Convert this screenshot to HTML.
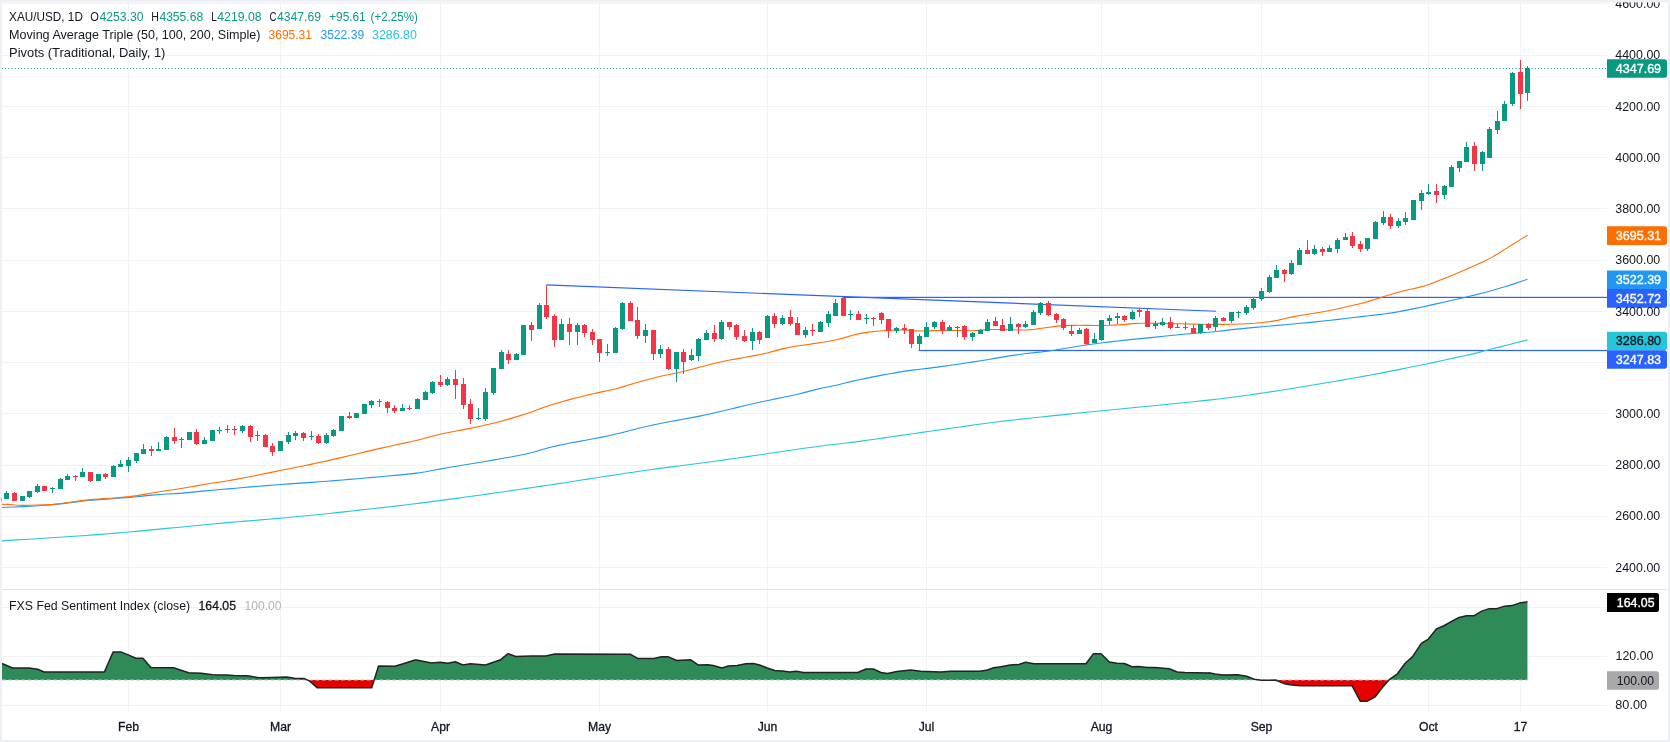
<!DOCTYPE html>
<html><head><meta charset="utf-8"><title>XAU/USD</title>
<style>
html,body{margin:0;padding:0;background:#fff;}
body{width:1670px;height:742px;overflow:hidden;font-family:"Liberation Sans",sans-serif;}
svg{display:block;font-family:"Liberation Sans",sans-serif;}
</style></head><body>
<svg width="1670" height="742" viewBox="0 0 1670 742">
<rect x="0" y="0" width="1670" height="742" fill="#fff"/>
<!-- grid -->
<rect x="2" y="567" width="1605" height="1" fill="#f1f2f4"/>
<rect x="2" y="516" width="1605" height="1" fill="#f1f2f4"/>
<rect x="2" y="465" width="1605" height="1" fill="#f1f2f4"/>
<rect x="2" y="413" width="1605" height="1" fill="#f1f2f4"/>
<rect x="2" y="362" width="1605" height="1" fill="#f1f2f4"/>
<rect x="2" y="311" width="1605" height="1" fill="#f1f2f4"/>
<rect x="2" y="260" width="1605" height="1" fill="#f1f2f4"/>
<rect x="2" y="208" width="1605" height="1" fill="#f1f2f4"/>
<rect x="2" y="157" width="1605" height="1" fill="#f1f2f4"/>
<rect x="2" y="106" width="1605" height="1" fill="#f1f2f4"/>
<rect x="2" y="55" width="1605" height="1" fill="#f1f2f4"/>
<rect x="2" y="3" width="1605" height="1" fill="#f1f2f4"/>
<rect x="2" y="607" width="1605" height="1" fill="#f1f2f4"/>
<rect x="2" y="656" width="1605" height="1" fill="#f1f2f4"/>
<rect x="2" y="705" width="1605" height="1" fill="#f1f2f4"/>
<rect x="128" y="2" width="1" height="709.5" fill="#f1f2f4"/>
<rect x="280" y="2" width="1" height="709.5" fill="#f1f2f4"/>
<rect x="440" y="2" width="1" height="709.5" fill="#f1f2f4"/>
<rect x="599" y="2" width="1" height="709.5" fill="#f1f2f4"/>
<rect x="767" y="2" width="1" height="709.5" fill="#f1f2f4"/>
<rect x="926" y="2" width="1" height="709.5" fill="#f1f2f4"/>
<rect x="1101" y="2" width="1" height="709.5" fill="#f1f2f4"/>
<rect x="1261" y="2" width="1" height="709.5" fill="#f1f2f4"/>
<rect x="1428" y="2" width="1" height="709.5" fill="#f1f2f4"/>
<rect x="1520" y="2" width="1" height="709.5" fill="#f1f2f4"/>
<!-- pane separator -->
<rect x="2" y="589" width="1665" height="1" fill="#e0e3eb"/>
<!-- horizontal level lines -->
<rect x="842.8" y="296.8" width="764.2" height="1.2" fill="#2962ff"/>
<rect x="918.7" y="349.9" width="688.3" height="1.2" fill="#2962ff"/>
<path d="M546.5 284.9 L1216.1 311.2" stroke="#2962ff" stroke-width="1.1" fill="none"/>
<!-- MAs -->
<path d="M2.01 540.85 L9.62 540.38 L17.22 539.92 L24.82 539.45 L32.43 538.97 L40.03 538.49 L47.64 538 L55.24 537.51 L62.84 537.02 L70.45 536.53 L78.05 536.02 L85.66 535.48 L93.26 534.92 L100.86 534.33 L108.47 533.72 L116.07 533.09 L123.68 532.44 L131.28 531.78 L138.88 531.08 L146.49 530.37 L154.09 529.64 L161.7 528.9 L169.3 528.16 L176.9 527.43 L184.51 526.71 L192.11 525.97 L199.72 525.23 L207.32 524.5 L214.92 523.78 L222.53 523.08 L230.13 522.4 L237.74 521.76 L245.34 521.13 L252.94 520.52 L260.55 519.9 L268.15 519.27 L275.76 518.62 L283.36 517.94 L290.96 517.24 L298.57 516.52 L306.17 515.78 L313.78 515.02 L321.38 514.25 L328.98 513.47 L336.59 512.67 L344.19 511.85 L351.8 511.02 L359.4 510.17 L367 509.31 L374.61 508.45 L382.21 507.59 L389.82 506.72 L397.42 505.84 L405.02 504.95 L412.63 504.03 L420.23 503.09 L427.84 502.13 L435.44 501.14 L443.04 500.14 L450.65 499.13 L458.25 498.1 L465.86 497.06 L473.46 496 L481.06 494.94 L488.67 493.86 L496.27 492.78 L503.88 491.69 L511.48 490.59 L519.08 489.49 L526.69 488.38 L534.29 487.26 L541.9 486.15 L549.5 485.02 L557.1 483.86 L564.71 482.69 L572.31 481.51 L579.92 480.32 L587.52 479.14 L595.12 477.97 L602.73 476.82 L610.33 475.65 L617.94 474.49 L625.54 473.32 L633.14 472.18 L640.75 471.05 L648.35 469.96 L655.96 468.91 L663.56 467.9 L671.16 466.92 L678.77 465.95 L686.37 464.99 L693.98 464.01 L701.58 463.01 L709.18 461.98 L716.79 460.93 L724.39 459.86 L732 458.79 L739.6 457.71 L747.2 456.63 L754.81 455.55 L762.41 454.44 L770.02 453.32 L777.62 452.18 L785.22 451.04 L792.83 449.92 L800.43 448.81 L808.04 447.73 L815.64 446.7 L823.24 445.72 L830.85 444.82 L838.45 443.95 L846.06 443.06 L853.66 442.1 L861.26 441.09 L868.87 440.05 L876.47 438.97 L884.08 437.88 L891.68 436.77 L899.28 435.65 L906.89 434.54 L914.49 433.43 L922.1 432.34 L929.7 431.27 L937.3 430.19 L944.91 429.1 L952.51 428.01 L960.12 426.92 L967.72 425.85 L975.32 424.79 L982.93 423.75 L990.53 422.75 L998.14 421.79 L1005.74 420.86 L1013.34 419.98 L1020.95 419.13 L1028.55 418.3 L1036.16 417.49 L1043.76 416.69 L1051.36 415.89 L1058.97 415.1 L1066.57 414.33 L1074.18 413.56 L1081.78 412.81 L1089.38 412.06 L1096.99 411.3 L1104.59 410.54 L1112.2 409.79 L1119.8 409.03 L1127.4 408.28 L1135.01 407.53 L1142.61 406.77 L1150.22 406.01 L1157.82 405.24 L1165.42 404.49 L1173.03 403.75 L1180.63 403 L1188.24 402.25 L1195.84 401.47 L1203.44 400.67 L1211.05 399.83 L1218.65 398.94 L1226.26 398 L1233.86 397.02 L1241.46 396.01 L1249.07 394.96 L1256.67 393.88 L1264.28 392.77 L1271.88 391.64 L1279.48 390.47 L1287.09 389.28 L1294.69 388.06 L1302.3 386.83 L1309.9 385.57 L1317.5 384.3 L1325.11 383.01 L1332.71 381.71 L1340.32 380.4 L1347.92 379.07 L1355.52 377.74 L1363.13 376.4 L1370.73 375.03 L1378.34 373.6 L1385.94 372.11 L1393.54 370.6 L1401.15 369.09 L1408.75 367.57 L1416.36 366.03 L1423.96 364.46 L1431.56 362.86 L1439.17 361.22 L1446.77 359.55 L1454.38 357.89 L1461.98 356.27 L1469.58 354.62 L1477.19 352.85 L1484.79 350.83 L1492.4 348.79 L1500 346.88 L1507.6 345 L1515.21 343.07 L1522.81 341.11 L1527.46 339.9" stroke="#26c6da" stroke-width="1.1" fill="none" stroke-linejoin="round"/>
<path d="M0 507.43 L7.6 507.24 L15.21 506.96 L22.81 506.61 L30.42 506.19 L38.02 505.71 L45.62 505.19 L53.23 504.62 L60.83 503.83 L68.44 502.88 L76.04 501.88 L83.64 500.97 L91.25 500.25 L98.85 499.64 L106.46 499.08 L114.06 498.55 L121.66 498 L129.27 497.4 L136.87 496.69 L144.48 495.91 L152.08 495.16 L159.68 494.5 L167.29 494.01 L174.89 493.63 L182.5 493.08 L190.1 492.4 L197.7 491.64 L205.31 490.89 L212.91 490.2 L220.52 489.54 L228.12 488.88 L235.72 488.23 L243.33 487.57 L250.93 486.92 L258.54 486.27 L266.14 485.64 L273.74 485.03 L281.35 484.44 L288.95 483.88 L296.56 483.36 L304.16 482.84 L311.76 482.33 L319.37 481.8 L326.97 481.24 L334.58 480.64 L342.18 480.03 L349.78 479.39 L357.39 478.74 L364.99 478.07 L372.6 477.39 L380.2 476.69 L387.8 476.02 L395.41 475.34 L403.01 474.63 L410.62 473.83 L418.22 472.92 L425.82 471.77 L433.43 470.31 L441.03 468.88 L448.64 467.57 L456.24 466.3 L463.84 465.05 L471.45 463.8 L479.05 462.52 L486.66 461.21 L494.26 459.88 L501.86 458.56 L509.47 457.23 L517.07 455.81 L524.68 454.26 L532.28 452.51 L539.88 450.3 L547.49 448.02 L555.09 446.16 L562.7 444.52 L570.3 443.02 L577.9 441.6 L585.51 440.21 L593.11 438.81 L600.72 437.35 L608.32 435.79 L615.92 434.05 L623.53 432.17 L631.13 430.22 L638.74 428.27 L646.34 426.42 L653.94 424.73 L661.55 423.21 L669.15 421.78 L676.76 420.41 L684.36 419.05 L691.96 417.65 L699.57 416.16 L707.17 414.54 L714.78 412.82 L722.38 411.03 L729.98 409.2 L737.59 407.35 L745.19 405.52 L752.8 403.74 L760.4 402.04 L768 400.43 L775.61 398.88 L783.21 397.33 L790.82 395.73 L798.42 394.03 L806.02 392.14 L813.63 390.15 L821.23 388.3 L828.84 386.74 L836.44 385.17 L844.04 383.25 L851.65 381.39 L859.25 379.7 L866.86 378.1 L874.46 376.59 L882.06 375.14 L889.67 373.72 L897.27 372.39 L904.88 371.16 L912.48 370.1 L920.08 369.24 L927.69 368.39 L935.29 367.42 L942.9 366.38 L950.5 365.29 L958.1 364.17 L965.71 363.04 L973.31 361.9 L980.92 360.69 L988.52 359.42 L996.12 358.12 L1003.73 356.84 L1011.33 355.62 L1018.94 354.48 L1026.54 353.48 L1034.14 352.67 L1041.75 351.92 L1049.35 350.98 L1056.96 349.83 L1064.56 348.55 L1072.16 347.23 L1079.77 345.95 L1087.37 344.81 L1094.98 343.77 L1102.58 342.78 L1110.18 341.83 L1117.79 340.93 L1125.39 340.09 L1133 339.33 L1140.6 338.63 L1148.2 337.87 L1155.81 337.09 L1163.41 336.29 L1171.02 335.51 L1178.62 334.76 L1186.22 334.03 L1193.83 333.36 L1201.43 332.79 L1209.04 332.23 L1216.64 331.57 L1224.24 330.61 L1231.85 329.65 L1239.45 328.87 L1247.06 328.14 L1254.66 327.42 L1262.26 326.72 L1269.87 326.03 L1277.47 325.36 L1285.08 324.68 L1292.68 324 L1300.28 323.3 L1307.89 322.58 L1315.49 321.84 L1323.1 321.05 L1330.7 320.22 L1338.3 319.34 L1345.91 318.44 L1353.51 317.53 L1361.12 316.64 L1368.72 315.78 L1376.32 314.89 L1383.93 313.94 L1391.53 312.88 L1399.14 311.62 L1406.74 310.15 L1414.34 308.6 L1421.95 307.01 L1429.55 305.36 L1437.16 303.66 L1444.76 301.94 L1452.36 300.21 L1459.97 298.48 L1467.57 296.72 L1475.18 294.89 L1482.78 292.99 L1490.38 290.98 L1497.99 288.83 L1505.59 286.54 L1513.2 284.11 L1520.8 281.58 L1527.46 279.29" stroke="#2196f3" stroke-width="1.1" fill="none" stroke-linejoin="round"/>
<path d="M0 504.29 L7.6 504.35 L15.21 504.99 L22.81 505.36 L30.42 505.27 L38.02 505.04 L45.62 504.72 L53.23 504.33 L60.83 503.57 L68.44 502.55 L76.04 501.43 L83.64 500.4 L91.25 499.64 L98.85 499.04 L106.46 498.52 L114.06 498 L121.66 497.41 L129.27 496.67 L136.87 495.65 L144.48 494.38 L152.08 493.01 L159.68 491.68 L167.29 490.53 L174.89 489.46 L182.5 488.26 L190.1 486.96 L197.7 485.63 L205.31 484.31 L212.91 483.08 L220.52 481.92 L228.12 480.68 L235.72 479.34 L243.33 477.92 L250.93 476.46 L258.54 474.95 L266.14 473.41 L273.74 471.85 L281.35 470.3 L288.95 468.75 L296.56 467.21 L304.16 465.67 L311.76 464.1 L319.37 462.51 L326.97 460.86 L334.58 459.15 L342.18 457.37 L349.78 455.56 L357.39 453.72 L364.99 451.9 L372.6 450.11 L380.2 448.39 L387.8 446.72 L395.41 445.07 L403.01 443.4 L410.62 441.69 L418.22 439.92 L425.82 437.98 L433.43 435.92 L441.03 434.03 L448.64 432.45 L456.24 431.01 L463.84 429.61 L471.45 428.15 L479.05 426.55 L486.66 424.83 L494.26 422.98 L501.86 420.99 L509.47 418.86 L517.07 416.61 L524.68 414.23 L532.28 411.69 L539.88 408.75 L547.49 406.02 L555.09 403.66 L562.7 401.46 L570.3 399.4 L577.9 397.43 L585.51 395.58 L593.11 393.83 L600.72 392.14 L608.32 390.46 L615.92 388.75 L623.53 386.62 L631.13 384.3 L638.74 382.06 L646.34 379.96 L653.94 377.91 L661.55 376.02 L669.15 374.46 L676.76 373.01 L684.36 371.21 L691.96 369.22 L699.57 367.22 L707.17 365.28 L714.78 363.33 L722.38 361.53 L729.98 359.98 L737.59 358.59 L745.19 357.26 L752.8 355.91 L760.4 354.44 L768 352.69 L775.61 350.64 L783.21 348.61 L790.82 346.96 L798.42 345.76 L806.02 344.73 L813.63 343.66 L821.23 342.51 L828.84 341.28 L836.44 339.78 L844.04 337.86 L851.65 335.5 L859.25 333.65 L866.86 332.36 L874.46 331.47 L882.06 330.81 L889.67 330.37 L897.27 330.01 L904.88 329.9 L912.48 330.59 L920.08 331.05 L927.69 330.86 L935.29 330.58 L942.9 330.44 L950.5 330.36 L958.1 330.53 L965.71 330.79 L973.31 330.7 L980.92 330.13 L988.52 329.56 L996.12 329.45 L1003.73 329.59 L1011.33 329.8 L1018.94 329.98 L1026.54 330.02 L1034.14 329.33 L1041.75 328.19 L1049.35 327.18 L1056.96 326.17 L1064.56 325.65 L1072.16 325.38 L1079.77 325.31 L1087.37 325.38 L1094.98 325.47 L1102.58 325.51 L1110.18 325.3 L1117.79 324.89 L1125.39 324.41 L1133 323.66 L1140.6 323.2 L1148.2 323.23 L1155.81 323.34 L1163.41 323.47 L1171.02 323.6 L1178.62 323.78 L1186.22 323.99 L1193.83 324.17 L1201.43 324.28 L1209.04 324.31 L1216.64 324.33 L1224.24 324.34 L1231.85 324.3 L1239.45 324.06 L1247.06 323.68 L1254.66 323.23 L1262.26 322.56 L1269.87 321.65 L1277.47 320.39 L1285.08 318.45 L1292.68 316.85 L1300.28 315.48 L1307.89 314.22 L1315.49 312.98 L1323.1 311.67 L1330.7 310.23 L1338.3 308.68 L1345.91 307.05 L1353.51 305.32 L1361.12 303.46 L1368.72 301.39 L1376.32 298.93 L1383.93 296.56 L1391.53 294.27 L1399.14 292.08 L1406.74 290.08 L1414.34 288.45 L1421.95 286.66 L1429.55 284.16 L1437.16 281.24 L1444.76 278.25 L1452.36 275.2 L1459.97 272.03 L1467.57 268.76 L1475.18 265.37 L1482.78 261.89 L1490.38 258.13 L1497.99 253.74 L1505.59 248.84 L1513.2 244.01 L1520.8 239.37 L1527.6 235.26" stroke="#ff6d00" stroke-width="1.1" fill="none" stroke-linejoin="round"/>
<!-- price line -->
<path d="M2 68.5H1607" stroke="#089981" stroke-width="1" stroke-dasharray="1 2.2" fill="none"/>
<!-- candles -->
<path fill="#089981" d="M6 491h1V499h-1zM4 493h5V499h-5z"/>
<path fill="#f23645" d="M14 492h1V501h-1zM12 493h5V501h-5z"/>
<path fill="#089981" d="M22 496h1V501h-1zM20 496h5V501h-5z"/>
<path fill="#089981" d="M29 491h1V498h-1zM27 491h5V497h-5z"/>
<path fill="#089981" d="M37 484h1V493h-1zM35 486h5V492h-5z"/>
<path fill="#f23645" d="M44 486h1V491h-1zM42 486h5V491h-5z"/>
<path fill="#089981" d="M52 487h1V493h-1zM50 488h5V489h-5z"/>
<path fill="#089981" d="M60 478h1V489h-1zM58 479h5V489h-5z"/>
<path fill="#089981" d="M67 474h1V480h-1zM65 476h5V480h-5z"/>
<path fill="#f23645" d="M75 475h1V481h-1zM73 476h5V477h-5z"/>
<path fill="#089981" d="M82 468h1V477h-1zM80 472h5V477h-5z"/>
<path fill="#f23645" d="M90 472h1V482h-1zM88 472h5V481h-5z"/>
<path fill="#089981" d="M98 474h1V481h-1zM96 474h5V481h-5z"/>
<path fill="#f23645" d="M105 473h1V479h-1zM103 474h5V477h-5z"/>
<path fill="#089981" d="M113 465h1V477h-1zM111 466h5V477h-5z"/>
<path fill="#089981" d="M120 460h1V467h-1zM118 464h5V467h-5z"/>
<path fill="#089981" d="M128 457h1V472h-1zM126 460h5V466h-5z"/>
<path fill="#089981" d="M136 453h1V463h-1zM134 453h5V461h-5z"/>
<path fill="#089981" d="M143 444h1V454h-1zM141 449h5V454h-5z"/>
<path fill="#f23645" d="M151 446h1V456h-1zM149 449h5V451h-5z"/>
<path fill="#089981" d="M158 442h1V451h-1zM156 449h5V451h-5z"/>
<path fill="#089981" d="M166 436h1V450h-1zM164 437h5V450h-5z"/>
<path fill="#f23645" d="M174 428h1V444h-1zM172 437h5V441h-5z"/>
<path fill="#089981" d="M181 437h1V448h-1zM179 439h5V440h-5z"/>
<path fill="#089981" d="M189 432h1V440h-1zM187 432h5V440h-5z"/>
<path fill="#f23645" d="M196 429h1V445h-1zM194 432h5V444h-5z"/>
<path fill="#089981" d="M204 437h1V444h-1zM202 440h5V444h-5z"/>
<path fill="#089981" d="M212 430h1V441h-1zM210 430h5V441h-5z"/>
<path fill="#089981" d="M219 427h1V434h-1zM217 430h5V431h-5z"/>
<path fill="#089981" d="M227 425h1V433h-1zM225 429h5V430h-5z"/>
<path fill="#f23645" d="M234 426h1V435h-1zM232 429h5V430h-5z"/>
<path fill="#089981" d="M242 425h1V433h-1zM240 426h5V431h-5z"/>
<path fill="#f23645" d="M250 425h1V442h-1zM248 426h5V437h-5z"/>
<path fill="#089981" d="M257 431h1V441h-1zM255 435h5V436h-5z"/>
<path fill="#f23645" d="M265 434h1V447h-1zM263 435h5V447h-5z"/>
<path fill="#f23645" d="M272 443h1V456h-1zM270 446h5V452h-5z"/>
<path fill="#089981" d="M280 441h1V451h-1zM278 441h5V451h-5z"/>
<path fill="#089981" d="M288 432h1V444h-1zM286 435h5V442h-5z"/>
<path fill="#089981" d="M295 431h1V440h-1zM293 433h5V436h-5z"/>
<path fill="#f23645" d="M303 432h1V441h-1zM301 433h5V438h-5z"/>
<path fill="#089981" d="M311 431h1V440h-1zM309 436h5V437h-5z"/>
<path fill="#f23645" d="M318 434h1V444h-1zM316 436h5V443h-5z"/>
<path fill="#089981" d="M326 433h1V444h-1zM324 435h5V443h-5z"/>
<path fill="#089981" d="M333 429h1V437h-1zM331 430h5V436h-5z"/>
<path fill="#089981" d="M341 416h1V431h-1zM339 416h5V431h-5z"/>
<path fill="#f23645" d="M349 412h1V419h-1zM347 416h5V418h-5z"/>
<path fill="#089981" d="M356 413h1V418h-1zM354 413h5V418h-5z"/>
<path fill="#089981" d="M364 404h1V414h-1zM362 404h5V414h-5z"/>
<path fill="#089981" d="M371 400h1V408h-1zM369 401h5V405h-5z"/>
<path fill="#f23645" d="M379 399h1V407h-1zM377 401h5V402h-5z"/>
<path fill="#f23645" d="M387 401h1V413h-1zM385 402h5V408h-5z"/>
<path fill="#f23645" d="M394 405h1V413h-1zM392 408h5V411h-5z"/>
<path fill="#089981" d="M402 404h1V411h-1zM400 408h5V411h-5z"/>
<path fill="#f23645" d="M409 405h1V410h-1zM407 408h5V409h-5z"/>
<path fill="#089981" d="M417 398h1V409h-1zM415 399h5V409h-5z"/>
<path fill="#089981" d="M425 391h1V400h-1zM423 392h5V400h-5z"/>
<path fill="#089981" d="M432 381h1V394h-1zM430 382h5V393h-5z"/>
<path fill="#f23645" d="M440 375h1V387h-1zM438 382h5V385h-5z"/>
<path fill="#089981" d="M447 377h1V386h-1zM445 379h5V385h-5z"/>
<path fill="#f23645" d="M455 370h1V399h-1zM453 379h5V385h-5z"/>
<path fill="#f23645" d="M463 378h1V409h-1zM461 384h5V405h-5z"/>
<path fill="#f23645" d="M470 399h1V424h-1zM468 404h5V419h-5z"/>
<path fill="#089981" d="M478 408h1V420h-1zM476 418h5V419h-5z"/>
<path fill="#089981" d="M485 388h1V421h-1zM483 392h5V419h-5z"/>
<path fill="#089981" d="M493 368h1V395h-1zM491 368h5V393h-5z"/>
<path fill="#089981" d="M501 350h1V369h-1zM499 352h5V369h-5z"/>
<path fill="#f23645" d="M508 350h1V364h-1zM506 354h5V360h-5z"/>
<path fill="#089981" d="M516 353h1V360h-1zM514 354h5V360h-5z"/>
<path fill="#089981" d="M523 325h1V355h-1zM521 325h5V355h-5z"/>
<path fill="#f23645" d="M531 322h1V341h-1zM529 325h5V330h-5z"/>
<path fill="#089981" d="M539 303h1V329h-1zM537 305h5V329h-5z"/>
<path fill="#f23645" d="M546 285h1V319h-1zM544 305h5V317h-5z"/>
<path fill="#f23645" d="M554 314h1V347h-1zM552 316h5V340h-5z"/>
<path fill="#089981" d="M561 319h1V340h-1zM559 324h5V340h-5z"/>
<path fill="#f23645" d="M569 318h1V345h-1zM567 324h5V332h-5z"/>
<path fill="#089981" d="M577 323h1V345h-1zM575 325h5V332h-5z"/>
<path fill="#f23645" d="M584 324h1V337h-1zM582 325h5V333h-5z"/>
<path fill="#f23645" d="M592 329h1V345h-1zM590 332h5V340h-5z"/>
<path fill="#f23645" d="M599 339h1V362h-1zM597 339h5V353h-5z"/>
<path fill="#089981" d="M607 344h1V356h-1zM605 352h5V353h-5z"/>
<path fill="#089981" d="M615 327h1V353h-1zM613 328h5V353h-5z"/>
<path fill="#089981" d="M622 302h1V330h-1zM620 303h5V329h-5z"/>
<path fill="#f23645" d="M630 301h1V321h-1zM628 303h5V321h-5z"/>
<path fill="#f23645" d="M637 307h1V339h-1zM635 320h5V336h-5z"/>
<path fill="#089981" d="M645 324h1V343h-1zM643 330h5V336h-5z"/>
<path fill="#f23645" d="M653 330h1V360h-1zM651 330h5V354h-5z"/>
<path fill="#089981" d="M660 345h1V358h-1zM658 349h5V354h-5z"/>
<path fill="#f23645" d="M668 347h1V370h-1zM666 349h5V369h-5z"/>
<path fill="#089981" d="M676 352h1V382h-1zM674 352h5V369h-5z"/>
<path fill="#f23645" d="M683 349h1V374h-1zM681 352h5V362h-5z"/>
<path fill="#089981" d="M691 349h1V361h-1zM689 355h5V360h-5z"/>
<path fill="#089981" d="M698 338h1V361h-1zM696 339h5V356h-5z"/>
<path fill="#089981" d="M706 330h1V340h-1zM704 333h5V340h-5z"/>
<path fill="#f23645" d="M714 325h1V342h-1zM712 333h5V339h-5z"/>
<path fill="#089981" d="M721 320h1V340h-1zM719 322h5V339h-5z"/>
<path fill="#f23645" d="M729 322h1V330h-1zM727 322h5V327h-5z"/>
<path fill="#f23645" d="M736 324h1V340h-1zM734 325h5V337h-5z"/>
<path fill="#f23645" d="M744 330h1V342h-1zM742 336h5V341h-5z"/>
<path fill="#089981" d="M752 328h1V350h-1zM750 332h5V341h-5z"/>
<path fill="#f23645" d="M759 331h1V344h-1zM757 332h5V340h-5z"/>
<path fill="#089981" d="M767 315h1V338h-1zM765 316h5V338h-5z"/>
<path fill="#f23645" d="M774 313h1V328h-1zM772 316h5V324h-5z"/>
<path fill="#089981" d="M782 315h1V325h-1zM780 318h5V324h-5z"/>
<path fill="#f23645" d="M790 310h1V326h-1zM788 317h5V324h-5z"/>
<path fill="#f23645" d="M797 317h1V335h-1zM795 323h5V335h-5z"/>
<path fill="#089981" d="M805 327h1V338h-1zM803 330h5V335h-5z"/>
<path fill="#f23645" d="M812 324h1V336h-1zM810 330h5V331h-5z"/>
<path fill="#089981" d="M820 321h1V332h-1zM818 322h5V332h-5z"/>
<path fill="#089981" d="M828 311h1V327h-1zM826 314h5V323h-5z"/>
<path fill="#089981" d="M835 299h1V316h-1zM833 303h5V316h-5z"/>
<path fill="#f23645" d="M843 297h1V316h-1zM841 298h5V316h-5z"/>
<path fill="#089981" d="M850 310h1V320h-1zM848 314h5V315h-5z"/>
<path fill="#f23645" d="M858 311h1V320h-1zM856 314h5V320h-5z"/>
<path fill="#089981" d="M866 314h1V324h-1zM864 318h5V319h-5z"/>
<path fill="#f23645" d="M873 317h1V326h-1zM871 318h5V319h-5z"/>
<path fill="#f23645" d="M881 312h1V324h-1zM879 313h5V320h-5z"/>
<path fill="#f23645" d="M888 319h1V338h-1zM886 319h5V331h-5z"/>
<path fill="#089981" d="M896 327h1V333h-1zM894 328h5V331h-5z"/>
<path fill="#f23645" d="M904 324h1V334h-1zM902 328h5V330h-5z"/>
<path fill="#f23645" d="M911 329h1V348h-1zM909 329h5V344h-5z"/>
<path fill="#089981" d="M919 334h1V350h-1zM917 336h5V344h-5z"/>
<path fill="#089981" d="M926 322h1V337h-1zM924 327h5V337h-5z"/>
<path fill="#089981" d="M934 321h1V329h-1zM932 322h5V327h-5z"/>
<path fill="#f23645" d="M942 320h1V334h-1zM940 322h5V331h-5z"/>
<path fill="#089981" d="M949 325h1V331h-1zM947 327h5V331h-5z"/>
<path fill="#089981" d="M957 326h1V337h-1zM955 327h5V328h-5z"/>
<path fill="#f23645" d="M964 325h1V340h-1zM962 326h5V337h-5z"/>
<path fill="#089981" d="M972 332h1V341h-1zM970 333h5V337h-5z"/>
<path fill="#089981" d="M980 329h1V334h-1zM978 330h5V334h-5z"/>
<path fill="#089981" d="M987 319h1V331h-1zM985 322h5V331h-5z"/>
<path fill="#f23645" d="M995 317h1V326h-1zM993 321h5V326h-5z"/>
<path fill="#f23645" d="M1002 319h1V331h-1zM1000 325h5V331h-5z"/>
<path fill="#089981" d="M1010 317h1V331h-1zM1008 324h5V331h-5z"/>
<path fill="#f23645" d="M1018 323h1V334h-1zM1016 324h5V327h-5z"/>
<path fill="#089981" d="M1025 321h1V328h-1zM1023 324h5V327h-5z"/>
<path fill="#089981" d="M1033 310h1V325h-1zM1031 312h5V325h-5z"/>
<path fill="#089981" d="M1040 302h1V315h-1zM1038 303h5V313h-5z"/>
<path fill="#f23645" d="M1048 301h1V316h-1zM1046 303h5V315h-5z"/>
<path fill="#f23645" d="M1056 313h1V323h-1zM1054 314h5V320h-5z"/>
<path fill="#f23645" d="M1063 318h1V330h-1zM1061 319h5V328h-5z"/>
<path fill="#f23645" d="M1071 325h1V336h-1zM1069 331h5V334h-5z"/>
<path fill="#089981" d="M1079 328h1V334h-1zM1077 330h5V334h-5z"/>
<path fill="#f23645" d="M1086 328h1V345h-1zM1084 329h5V344h-5z"/>
<path fill="#089981" d="M1094 333h1V343h-1zM1092 339h5V343h-5z"/>
<path fill="#089981" d="M1101 320h1V341h-1zM1099 320h5V340h-5z"/>
<path fill="#089981" d="M1109 315h1V325h-1zM1107 318h5V321h-5z"/>
<path fill="#089981" d="M1117 313h1V324h-1zM1115 316h5V318h-5z"/>
<path fill="#f23645" d="M1124 315h1V322h-1zM1122 316h5V320h-5z"/>
<path fill="#089981" d="M1132 310h1V320h-1zM1130 312h5V319h-5z"/>
<path fill="#f23645" d="M1139 308h1V317h-1zM1137 310h5V312h-5z"/>
<path fill="#f23645" d="M1147 309h1V327h-1zM1145 311h5V327h-5z"/>
<path fill="#089981" d="M1155 321h1V329h-1zM1153 324h5V326h-5z"/>
<path fill="#089981" d="M1162 318h1V326h-1zM1160 322h5V325h-5z"/>
<path fill="#f23645" d="M1170 317h1V329h-1zM1168 322h5V328h-5z"/>
<path fill="#089981" d="M1177 324h1V328h-1zM1175 327h5V328h-5z"/>
<path fill="#f23645" d="M1185 322h1V330h-1zM1183 327h5V328h-5z"/>
<path fill="#f23645" d="M1193 325h1V333h-1zM1191 328h5V333h-5z"/>
<path fill="#089981" d="M1200 324h1V334h-1zM1198 324h5V333h-5z"/>
<path fill="#f23645" d="M1208 323h1V330h-1zM1206 324h5V328h-5z"/>
<path fill="#089981" d="M1215 316h1V331h-1zM1213 318h5V327h-5z"/>
<path fill="#f23645" d="M1223 317h1V321h-1zM1221 318h5V321h-5z"/>
<path fill="#089981" d="M1231 312h1V323h-1zM1229 312h5V321h-5z"/>
<path fill="#089981" d="M1238 311h1V318h-1zM1236 312h5V313h-5z"/>
<path fill="#089981" d="M1246 305h1V315h-1zM1244 307h5V313h-5z"/>
<path fill="#089981" d="M1253 297h1V310h-1zM1251 299h5V308h-5z"/>
<path fill="#089981" d="M1261 288h1V301h-1zM1259 291h5V299h-5z"/>
<path fill="#089981" d="M1269 275h1V293h-1zM1267 277h5V292h-5z"/>
<path fill="#089981" d="M1276 265h1V278h-1zM1274 270h5V278h-5z"/>
<path fill="#f23645" d="M1284 269h1V282h-1zM1282 270h5V274h-5z"/>
<path fill="#089981" d="M1291 260h1V275h-1zM1289 263h5V274h-5z"/>
<path fill="#089981" d="M1299 248h1V265h-1zM1297 250h5V265h-5z"/>
<path fill="#f23645" d="M1307 240h1V254h-1zM1305 250h5V254h-5z"/>
<path fill="#089981" d="M1314 245h1V255h-1zM1312 249h5V254h-5z"/>
<path fill="#f23645" d="M1322 247h1V256h-1zM1320 249h5V252h-5z"/>
<path fill="#089981" d="M1329 245h1V252h-1zM1327 248h5V252h-5z"/>
<path fill="#089981" d="M1337 238h1V253h-1zM1335 240h5V249h-5z"/>
<path fill="#089981" d="M1345 233h1V240h-1zM1343 237h5V240h-5z"/>
<path fill="#f23645" d="M1352 232h1V248h-1zM1350 236h5V246h-5z"/>
<path fill="#f23645" d="M1360 241h1V252h-1zM1358 244h5V249h-5z"/>
<path fill="#089981" d="M1367 238h1V251h-1zM1365 238h5V249h-5z"/>
<path fill="#089981" d="M1375 221h1V239h-1zM1373 222h5V239h-5z"/>
<path fill="#089981" d="M1383 211h1V225h-1zM1381 217h5V223h-5z"/>
<path fill="#f23645" d="M1390 214h1V229h-1zM1388 217h5V226h-5z"/>
<path fill="#089981" d="M1398 218h1V228h-1zM1396 221h5V226h-5z"/>
<path fill="#089981" d="M1405 212h1V225h-1zM1403 218h5V222h-5z"/>
<path fill="#089981" d="M1413 200h1V220h-1zM1411 200h5V220h-5z"/>
<path fill="#089981" d="M1421 190h1V210h-1zM1419 193h5V201h-5z"/>
<path fill="#089981" d="M1428 184h1V195h-1zM1426 192h5V194h-5z"/>
<path fill="#f23645" d="M1436 184h1V203h-1zM1434 191h5V195h-5z"/>
<path fill="#089981" d="M1444 185h1V199h-1zM1442 186h5V195h-5z"/>
<path fill="#089981" d="M1451 165h1V187h-1zM1449 167h5V187h-5z"/>
<path fill="#089981" d="M1459 161h1V172h-1zM1457 161h5V168h-5z"/>
<path fill="#089981" d="M1466 142h1V162h-1zM1464 147h5V162h-5z"/>
<path fill="#f23645" d="M1474 142h1V171h-1zM1472 146h5V164h-5z"/>
<path fill="#089981" d="M1482 151h1V171h-1zM1480 152h5V164h-5z"/>
<path fill="#089981" d="M1489 127h1V158h-1zM1487 129h5V158h-5z"/>
<path fill="#089981" d="M1497 111h1V134h-1zM1495 121h5V130h-5z"/>
<path fill="#089981" d="M1504 101h1V121h-1zM1502 104h5V121h-5z"/>
<path fill="#089981" d="M1512 72h1V106h-1zM1510 73h5V104h-5z"/>
<path fill="#f23645" d="M1520 60h1V109h-1zM1518 72h5V94h-5z"/>
<path fill="#089981" d="M1527 66h1V101h-1zM1525 68h5V93h-5z"/>
<!-- sentiment -->
<path d="M2.01 680 L2.01 663.47 L12.58 668 L28.92 668 L37.73 669.26 L44.01 672.02 L104.38 672.02 L113.18 651.9 L120.72 651.9 L128.27 654.92 L135.81 658.19 L142.86 658.19 L150.91 667.49 L173.54 667.75 L188.63 672.78 L201.21 673.28 L212.53 674.79 L226.36 675.04 L233.9 675.54 L247.74 675.79 L259.05 677.81 L271.63 677.56 L286.72 677.05 L294.27 678.31 L304.33 678.56 L307.52 680 L309.36 680 L317.4 680 L371.73 680 L374.17 680 L378.52 665.99 L394.87 666.24 L402.41 663.97 L414.99 659.95 L416.35 659.95 L431.44 662.97 L440.24 662.21 L447.79 663.22 L455.33 661.71 L462.88 664.98 L470.42 663.72 L485.51 664.98 L500.6 659.7 L508.15 653.66 L515.69 656.43 L530.78 655.93 L545.88 655.93 L554.68 653.91 L630.13 654.16 L637.68 658.44 L654.02 658.44 L661.57 656.68 L667.86 656.68 L676.66 660.45 L690.49 659.7 L698.04 664.98 L708.1 664.73 L713.13 665.48 L721.93 668 L728.22 665.99 L737.02 665.48 L745.82 663.72 L753.37 663.47 L759.66 664.98 L767.2 668 L774.75 670.51 L782.29 671.02 L789.84 672.02 L796.13 671.27 L804.93 672.78 L805.03 672.53 L857.85 672.53 L865.9 669 L873.44 669 L880.99 672.53 L887.53 673.53 L896.83 671.52 L910.66 670.01 L920.72 671.27 L940.85 672.02 L950.91 671.27 L979.83 671.27 L987.37 670.01 L993.66 667.75 L1001.21 666.74 L1010.01 664.98 L1018.81 664.48 L1025.6 662.21 L1033.9 663.72 L1085.97 663.72 L1093.51 653.66 L1101.06 653.66 L1109.36 661.96 L1116.9 663.22 L1124.45 663.47 L1131.99 666.74 L1138.28 666.49 L1147.08 667.49 L1154.63 667.49 L1169.22 668.75 L1177.26 672.02 L1184.81 672.53 L1208.7 673.03 L1208.8 672.78 L1215.09 674.03 L1222.64 675.04 L1237.73 674.79 L1246.53 676.3 L1254.07 679.32 L1259.21 680 L1261.62 680 L1275.45 680 L1285.51 680 L1291.8 680 L1300.6 680 L1352.16 680 L1360.21 680 L1367.25 680 L1374.8 680 L1382.34 680 L1389.06 680 L1389.89 679.06 L1397.43 673.78 L1404.98 663.47 L1412.53 656.68 L1421.33 643.35 L1428.37 639.07 L1436.42 629.01 L1443.96 625.74 L1451.51 621.47 L1459.05 617.44 L1466.6 615.68 L1474.14 615.68 L1481.69 611.16 L1489.24 608.64 L1496.78 608.64 L1504.33 606.13 L1511.87 605.62 L1519.42 603.11 L1527.46 601.85 L1527.46 680Z" fill="#2e8b57"/>
<path d="M2.01 680 L2.01 680 L12.58 680 L28.92 680 L37.73 680 L44.01 680 L104.38 680 L113.18 680 L120.72 680 L128.27 680 L135.81 680 L142.86 680 L150.91 680 L173.54 680 L188.63 680 L201.21 680 L212.53 680 L226.36 680 L233.9 680 L247.74 680 L259.05 680 L271.63 680 L286.72 680 L294.27 680 L304.33 680 L307.52 680 L309.36 680.82 L317.4 687.87 L371.73 687.87 L374.17 680 L378.52 680 L394.87 680 L402.41 680 L414.99 680 L416.35 680 L431.44 680 L440.24 680 L447.79 680 L455.33 680 L462.88 680 L470.42 680 L485.51 680 L500.6 680 L508.15 680 L515.69 680 L530.78 680 L545.88 680 L554.68 680 L630.13 680 L637.68 680 L654.02 680 L661.57 680 L667.86 680 L676.66 680 L690.49 680 L698.04 680 L708.1 680 L713.13 680 L721.93 680 L728.22 680 L737.02 680 L745.82 680 L753.37 680 L759.66 680 L767.2 680 L774.75 680 L782.29 680 L789.84 680 L796.13 680 L804.93 680 L805.03 680 L857.85 680 L865.9 680 L873.44 680 L880.99 680 L887.53 680 L896.83 680 L910.66 680 L920.72 680 L940.85 680 L950.91 680 L979.83 680 L987.37 680 L993.66 680 L1001.21 680 L1010.01 680 L1018.81 680 L1025.6 680 L1033.9 680 L1085.97 680 L1093.51 680 L1101.06 680 L1109.36 680 L1116.9 680 L1124.45 680 L1131.99 680 L1138.28 680 L1147.08 680 L1154.63 680 L1169.22 680 L1177.26 680 L1184.81 680 L1208.7 680 L1208.8 680 L1215.09 680 L1222.64 680 L1237.73 680 L1246.53 680 L1254.07 680 L1259.21 680 L1261.62 680.32 L1275.45 680.07 L1285.51 684.09 L1291.8 685.1 L1300.6 685.86 L1352.16 685.86 L1360.21 701.2 L1367.25 701.2 L1374.8 697.17 L1382.34 687.62 L1389.06 680 L1389.89 680 L1397.43 680 L1404.98 680 L1412.53 680 L1421.33 680 L1428.37 680 L1436.42 680 L1443.96 680 L1451.51 680 L1459.05 680 L1466.6 680 L1474.14 680 L1481.69 680 L1489.24 680 L1496.78 680 L1504.33 680 L1511.87 680 L1519.42 680 L1527.46 680 L1527.46 680Z" fill="#e60000"/>
<path d="M2 680H1527.46" stroke="#c4c4c4" stroke-width="1.2" stroke-dasharray="3.6 2.8" fill="none"/>
<path d="M2.01 663.47 L12.58 668 L28.92 668 L37.73 669.26 L44.01 672.02 L104.38 672.02 L113.18 651.9 L120.72 651.9 L128.27 654.92 L135.81 658.19 L142.86 658.19 L150.91 667.49 L173.54 667.75 L188.63 672.78 L201.21 673.28 L212.53 674.79 L226.36 675.04 L233.9 675.54 L247.74 675.79 L259.05 677.81 L271.63 677.56 L286.72 677.05 L294.27 678.31 L304.33 678.56 L309.36 680.82 L317.4 687.87 L371.73 687.87 L378.52 665.99 L394.87 666.24 L402.41 663.97 L414.99 659.95 L416.35 659.95 L431.44 662.97 L440.24 662.21 L447.79 663.22 L455.33 661.71 L462.88 664.98 L470.42 663.72 L485.51 664.98 L500.6 659.7 L508.15 653.66 L515.69 656.43 L530.78 655.93 L545.88 655.93 L554.68 653.91 L630.13 654.16 L637.68 658.44 L654.02 658.44 L661.57 656.68 L667.86 656.68 L676.66 660.45 L690.49 659.7 L698.04 664.98 L708.1 664.73 L713.13 665.48 L721.93 668 L728.22 665.99 L737.02 665.48 L745.82 663.72 L753.37 663.47 L759.66 664.98 L767.2 668 L774.75 670.51 L782.29 671.02 L789.84 672.02 L796.13 671.27 L804.93 672.78 L805.03 672.53 L857.85 672.53 L865.9 669 L873.44 669 L880.99 672.53 L887.53 673.53 L896.83 671.52 L910.66 670.01 L920.72 671.27 L940.85 672.02 L950.91 671.27 L979.83 671.27 L987.37 670.01 L993.66 667.75 L1001.21 666.74 L1010.01 664.98 L1018.81 664.48 L1025.6 662.21 L1033.9 663.72 L1085.97 663.72 L1093.51 653.66 L1101.06 653.66 L1109.36 661.96 L1116.9 663.22 L1124.45 663.47 L1131.99 666.74 L1138.28 666.49 L1147.08 667.49 L1154.63 667.49 L1169.22 668.75 L1177.26 672.02 L1184.81 672.53 L1208.7 673.03 L1208.8 672.78 L1215.09 674.03 L1222.64 675.04 L1237.73 674.79 L1246.53 676.3 L1254.07 679.32 L1261.62 680.32 L1275.45 680.07 L1285.51 684.09 L1291.8 685.1 L1300.6 685.86 L1352.16 685.86 L1360.21 701.2 L1367.25 701.2 L1374.8 697.17 L1382.34 687.62 L1389.89 679.06 L1397.43 673.78 L1404.98 663.47 L1412.53 656.68 L1421.33 643.35 L1428.37 639.07 L1436.42 629.01 L1443.96 625.74 L1451.51 621.47 L1459.05 617.44 L1466.6 615.68 L1474.14 615.68 L1481.69 611.16 L1489.24 608.64 L1496.78 608.64 L1504.33 606.13 L1511.87 605.62 L1519.42 603.11 L1527.46 601.85" stroke="#222" stroke-width="1.5" fill="none" stroke-linejoin="round"/>
<!-- labels -->
<g style="filter:contrast(1)">
<path fill="#089981" d="M1607 59.15h57.5a2.5 2.5 0 0 1 2.5 2.5v13.7a2.5 2.5 0 0 1 -2.5 2.5h-57.5z"/><text x="1615.8" y="72.9" font-size="12.2" fill="#fff" stroke="#fff" stroke-width="0.35" textLength="45.3" lengthAdjust="spacingAndGlyphs">4347.69</text>
<path fill="#ff6d00" d="M1607 226.25h57.5a2.5 2.5 0 0 1 2.5 2.5v13.7a2.5 2.5 0 0 1 -2.5 2.5h-57.5z"/><text x="1615.8" y="240" font-size="12.2" fill="#fff" stroke="#fff" stroke-width="0.35" textLength="45.3" lengthAdjust="spacingAndGlyphs">3695.31</text>
<path fill="#2196f3" d="M1607 270.4h57.5a2.5 2.5 0 0 1 2.5 2.5v14.2a2.5 2.5 0 0 1 -2.5 2.5h-57.5z"/><text x="1615.8" y="284.4" font-size="12.2" fill="#fff" stroke="#fff" stroke-width="0.35" textLength="45.3" lengthAdjust="spacingAndGlyphs">3522.39</text>
<path fill="#2962ff" d="M1607 289.05h57.5a2.5 2.5 0 0 1 2.5 2.5v13.7a2.5 2.5 0 0 1 -2.5 2.5h-57.5z"/><text x="1615.8" y="302.8" font-size="12.2" fill="#fff" stroke="#fff" stroke-width="0.35" textLength="45.3" lengthAdjust="spacingAndGlyphs">3452.72</text>
<path fill="#26c6da" d="M1607 331.65h57.5a2.5 2.5 0 0 1 2.5 2.5v13.7a2.5 2.5 0 0 1 -2.5 2.5h-57.5z"/><text x="1615.8" y="345.4" font-size="12.2" fill="#131722" stroke="#131722" stroke-width="0.35" textLength="45.3" lengthAdjust="spacingAndGlyphs">3286.80</text>
<path fill="#2962ff" d="M1607 350.15h57.5a2.5 2.5 0 0 1 2.5 2.5v13.7a2.5 2.5 0 0 1 -2.5 2.5h-57.5z"/><text x="1615.8" y="363.9" font-size="12.2" fill="#fff" stroke="#fff" stroke-width="0.35" textLength="45.3" lengthAdjust="spacingAndGlyphs">3247.83</text>
<path fill="#000" d="M1607 593.1h49.5a2.5 2.5 0 0 1 2.5 2.5v13.8a2.5 2.5 0 0 1 -2.5 2.5h-49.5z"/><text x="1616.8" y="606.9" font-size="12.2" fill="#fff" stroke="#fff" stroke-width="0.35" textLength="37.8" lengthAdjust="spacingAndGlyphs">164.05</text>
<path fill="#a9a9a9" d="M1607 671.2h49.5a2.5 2.5 0 0 1 2.5 2.5v13.5a2.5 2.5 0 0 1 -2.5 2.5h-49.5z"/><text x="1616.8" y="684.9" font-size="12.2" fill="#131722" font-weight="normal" text-anchor="start" textLength="37.2" lengthAdjust="spacingAndGlyphs">100.00</text>
<!-- text -->
<text x="9.1" y="21.3" font-size="12.2" fill="#131722" font-weight="normal" text-anchor="start" textLength="73.8" lengthAdjust="spacingAndGlyphs">XAU/USD, 1D</text>
<text x="90.3" y="21.3" font-size="12.2" fill="#131722" font-weight="normal" text-anchor="start" textLength="8.6" lengthAdjust="spacingAndGlyphs">O</text>
<text x="99.4" y="21.3" font-size="12.2" fill="#089981" font-weight="normal" text-anchor="start" textLength="44.1" lengthAdjust="spacingAndGlyphs">4253.30</text>
<text x="151.3" y="21.3" font-size="12.2" fill="#131722" font-weight="normal" text-anchor="start" textLength="7.6" lengthAdjust="spacingAndGlyphs">H</text>
<text x="159.4" y="21.3" font-size="12.2" fill="#089981" font-weight="normal" text-anchor="start" textLength="43.8" lengthAdjust="spacingAndGlyphs">4355.68</text>
<text x="211.3" y="21.3" font-size="12.2" fill="#131722" font-weight="normal" text-anchor="start" textLength="5.6" lengthAdjust="spacingAndGlyphs">L</text>
<text x="217.3" y="21.3" font-size="12.2" fill="#089981" font-weight="normal" text-anchor="start" textLength="44.2" lengthAdjust="spacingAndGlyphs">4219.08</text>
<text x="269.5" y="21.3" font-size="12.2" fill="#131722" font-weight="normal" text-anchor="start" textLength="7" lengthAdjust="spacingAndGlyphs">C</text>
<text x="277" y="21.3" font-size="12.2" fill="#089981" font-weight="normal" text-anchor="start" textLength="44" lengthAdjust="spacingAndGlyphs">4347.69</text>
<text x="329.2" y="21.3" font-size="12.2" fill="#089981" font-weight="normal" text-anchor="start" textLength="36.4" lengthAdjust="spacingAndGlyphs">+95.61</text>
<text x="370.6" y="21.3" font-size="12.2" fill="#089981" font-weight="normal" text-anchor="start" textLength="47.2" lengthAdjust="spacingAndGlyphs">(+2.25%)</text>
<text x="9.1" y="38.9" font-size="12.2" fill="#131722" font-weight="normal" text-anchor="start" textLength="251.3" lengthAdjust="spacingAndGlyphs">Moving Average Triple (50, 100, 200, Simple)</text>
<text x="268.5" y="38.9" font-size="12.2" fill="#ff6d00" font-weight="normal" text-anchor="start" textLength="43.5" lengthAdjust="spacingAndGlyphs">3695.31</text>
<text x="320.4" y="38.9" font-size="12.2" fill="#2196f3" font-weight="normal" text-anchor="start" textLength="43.8" lengthAdjust="spacingAndGlyphs">3522.39</text>
<text x="372" y="38.9" font-size="12.2" fill="#26c6da" font-weight="normal" text-anchor="start" textLength="44.8" lengthAdjust="spacingAndGlyphs">3286.80</text>
<text x="9.1" y="56.8" font-size="12.2" fill="#131722" font-weight="normal" text-anchor="start" textLength="156.3" lengthAdjust="spacingAndGlyphs">Pivots (Traditional, Daily, 1)</text>
<text x="9.1" y="610.2" font-size="12.2" fill="#131722" font-weight="normal" text-anchor="start" textLength="181" lengthAdjust="spacingAndGlyphs">FXS Fed Sentiment Index (close)</text>
<text x="198.5" y="610.2" font-size="12.2" fill="#131722" font-weight="normal" text-anchor="start" textLength="37.5" lengthAdjust="spacingAndGlyphs" stroke="#131722" stroke-width="0.3">164.05</text>
<text x="244.5" y="610.2" font-size="12.2" fill="#b4b4b4" font-weight="normal" text-anchor="start" textLength="37" lengthAdjust="spacingAndGlyphs">100.00</text>
<text x="1615.3" y="571.5" font-size="12.2" fill="#131722" font-weight="normal" text-anchor="start" textLength="44.9" lengthAdjust="spacingAndGlyphs">2400.00</text>
<text x="1615.3" y="520.3" font-size="12.2" fill="#131722" font-weight="normal" text-anchor="start" textLength="44.9" lengthAdjust="spacingAndGlyphs">2600.00</text>
<text x="1615.3" y="469.1" font-size="12.2" fill="#131722" font-weight="normal" text-anchor="start" textLength="44.9" lengthAdjust="spacingAndGlyphs">2800.00</text>
<text x="1615.3" y="417.9" font-size="12.2" fill="#131722" font-weight="normal" text-anchor="start" textLength="44.9" lengthAdjust="spacingAndGlyphs">3000.00</text>
<text x="1615.3" y="315.5" font-size="12.2" fill="#131722" font-weight="normal" text-anchor="start" textLength="44.9" lengthAdjust="spacingAndGlyphs">3400.00</text>
<text x="1615.3" y="264.3" font-size="12.2" fill="#131722" font-weight="normal" text-anchor="start" textLength="44.9" lengthAdjust="spacingAndGlyphs">3600.00</text>
<text x="1615.3" y="213.1" font-size="12.2" fill="#131722" font-weight="normal" text-anchor="start" textLength="44.9" lengthAdjust="spacingAndGlyphs">3800.00</text>
<text x="1615.3" y="161.9" font-size="12.2" fill="#131722" font-weight="normal" text-anchor="start" textLength="44.9" lengthAdjust="spacingAndGlyphs">4000.00</text>
<text x="1615.3" y="110.7" font-size="12.2" fill="#131722" font-weight="normal" text-anchor="start" textLength="44.9" lengthAdjust="spacingAndGlyphs">4200.00</text>
<text x="1615.3" y="58.6" font-size="12.2" fill="#131722" font-weight="normal" text-anchor="start" textLength="44.9" lengthAdjust="spacingAndGlyphs">4400.00</text>
<text x="1615.3" y="7.8" font-size="12.2" fill="#131722" font-weight="normal" text-anchor="start" textLength="44.9" lengthAdjust="spacingAndGlyphs">4600.00</text>
<text x="1615.5" y="660.1" font-size="12.2" fill="#131722" font-weight="normal" text-anchor="start" textLength="38" lengthAdjust="spacingAndGlyphs">120.00</text>
<text x="1615.3" y="708.5" font-size="12.2" fill="#131722" font-weight="normal" text-anchor="start" textLength="31.7" lengthAdjust="spacingAndGlyphs">80.00</text>
<text x="128.5" y="730.6" font-size="12.2" fill="#131722" font-weight="normal" text-anchor="middle" stroke="#131722" stroke-width="0.3">Feb</text>
<text x="280.5" y="730.6" font-size="12.2" fill="#131722" font-weight="normal" text-anchor="middle" stroke="#131722" stroke-width="0.3">Mar</text>
<text x="440.5" y="730.6" font-size="12.2" fill="#131722" font-weight="normal" text-anchor="middle" stroke="#131722" stroke-width="0.3">Apr</text>
<text x="599.5" y="730.6" font-size="12.2" fill="#131722" font-weight="normal" text-anchor="middle" stroke="#131722" stroke-width="0.3">May</text>
<text x="767.5" y="730.6" font-size="12.2" fill="#131722" font-weight="normal" text-anchor="middle" stroke="#131722" stroke-width="0.3">Jun</text>
<text x="926.5" y="730.6" font-size="12.2" fill="#131722" font-weight="normal" text-anchor="middle" stroke="#131722" stroke-width="0.3">Jul</text>
<text x="1101.5" y="730.6" font-size="12.2" fill="#131722" font-weight="normal" text-anchor="middle" stroke="#131722" stroke-width="0.3">Aug</text>
<text x="1261.5" y="730.6" font-size="12.2" fill="#131722" font-weight="normal" text-anchor="middle" stroke="#131722" stroke-width="0.3">Sep</text>
<text x="1428.5" y="730.6" font-size="12.2" fill="#131722" font-weight="normal" text-anchor="middle" stroke="#131722" stroke-width="0.3">Oct</text>
<text x="1520.5" y="730.6" font-size="12.2" fill="#131722" font-weight="normal" text-anchor="middle" stroke="#131722" stroke-width="0.3">17</text>
</g>
<!-- frame -->
<rect x="0" y="0" width="1670" height="2" fill="#eef0f6"/>
<rect x="0" y="2" width="1670" height="1" fill="#eef0f6" opacity="0.4"/>
<rect x="0" y="0" width="2" height="742" fill="#eef0f6"/>
<rect x="1668" y="0" width="2" height="742" fill="#eef0f6"/>
<rect x="0" y="740" width="1670" height="2" fill="#eef0f6"/>
<rect x="1" y="498" width="1" height="3" fill="#089981" opacity="0.55"/>
</svg>
</body></html>
